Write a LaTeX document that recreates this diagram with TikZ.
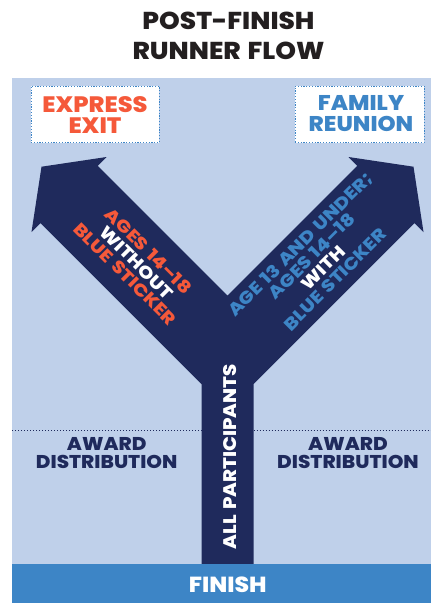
\documentclass[tikz,border=0pt]{standalone}
\usepackage{fontspec}
\IfFontExistsTF{Poppins ExtraBold}
  {\setmainfont{Poppins}[BoldFont={Poppins ExtraBold},FakeStretch=1.08,WordSpace=1.35]
   \newfontfamily\armfont{Poppins}[BoldFont={Poppins ExtraBold},FakeStretch=1.15,WordSpace=1.35]}
  {\setmainfont{Poppins}[FakeStretch=1.08,WordSpace=1.35]
   \newfontfamily\armfont{Poppins}[FakeStretch=1.15,WordSpace=1.35]}
\definecolor{bgblue}{HTML}{BFD0EA}
\definecolor{navy}{HTML}{1F2A5C}
\definecolor{midblue}{HTML}{3D85C6}
\definecolor{orng}{HTML}{F5593A}
\definecolor{titlegray}{HTML}{231F20}
\begin{document}
\begin{tikzpicture}[x=1pt,y=-1pt,
  every node/.style={inner sep=0pt,outer sep=0pt,font=\bfseries},
  titletxt/.style={text=titlegray,align=center,font=\bfseries\fontsize{24.4}{30}\selectfont},
  exitbox/.style={fill=white,draw=midblue,line width=0.9pt,dash pattern=on 1.2pt off 1.6pt},
  boxtxt/.style={align=center,font=\bfseries\fontsize{22.3}{21}\selectfont},
  awardtxt/.style={text=navy,align=center,font=\bfseries\fontsize{18.5}{18.3}\selectfont},
  divider/.style={draw=navy,line width=0.9pt,dash pattern=on 1.2pt off 1.8pt},
  armtxt/.style={align=center,font=\armfont\bfseries\fontsize{17.2}{16.5}\selectfont},
  stemtxt/.style={text=white,font=\bfseries\fontsize{18.2}{19}\selectfont},
  finishtxt/.style={text=white,font=\bfseries\fontsize{21.8}{21}\selectfont}
]
\useasboundingbox (0,0) rectangle (431,603);
\fill[white] (0,0) rectangle (431,603);
\node[titletxt] (title) at (228.5,36) {POST-FINISH\\RUNNER FLOW};
\fill[bgblue] (12,78) rectangle (431,564);
% boxes
\node[exitbox,minimum width=128pt,minimum height=56.7pt] (expressbox) at (95,114.3) {};
\node[boxtxt,text=orng] (express) at (95,114.7) {EXPRESS\\EXIT};
\node[exitbox,minimum width=129pt,minimum height=56.7pt] (familybox) at (359.5,114.3) {};
\node[boxtxt,text=midblue,font=\bfseries\fontsize{21.3}{21}\selectfont] (family) at (361,114) {FAMILY\\REUNION};
% dividers
\draw[divider] (12,430) -- (201.5,430);
\draw[divider] (253.5,430) -- (431,430);
% Y arrow
\fill[navy] (201.5,570) -- (201.5,384) -- (40.5,223) -- (31.5,232) -- (41.5,166.7)
  -- (106.5,157) -- (97.75,165.75) -- (227.5,295.5) -- (357.25,165.75)
  -- (348.5,157) -- (413.5,166.7) -- (423.5,232) -- (414.5,223)
  -- (253.5,384) -- (253.5,570) -- cycle;
% arm labels
\node[armtxt,rotate=-45] (leftlabel) at (137,262.4)
  {\textcolor{orng}{AGES 14–18}\\\textcolor{white}{WITHOUT}\\\textcolor{orng}{BLUE STICKER}};
\node[armtxt,rotate=45,text=midblue] (rightlabel) at (317.4,261.8)
  {AGE 13 AND UNDER;\\AGES 14–18\\\textcolor{white}{WITH}\\BLUE STICKER};
% award
\node[awardtxt] (awardleft) at (106.7,452.8) {AWARD\\DISTRIBUTION};
\node[awardtxt] (awardright) at (348,452.8) {AWARD\\DISTRIBUTION};
\node[stemtxt,rotate=90] (all) at (230,456.7) {ALL PARTICIPANTS};
% finish
\fill[midblue] (12,564) rectangle (431,603);
\node[finishtxt] (finish) at (227.8,585) {FINISH};
\end{tikzpicture}
\end{document}
